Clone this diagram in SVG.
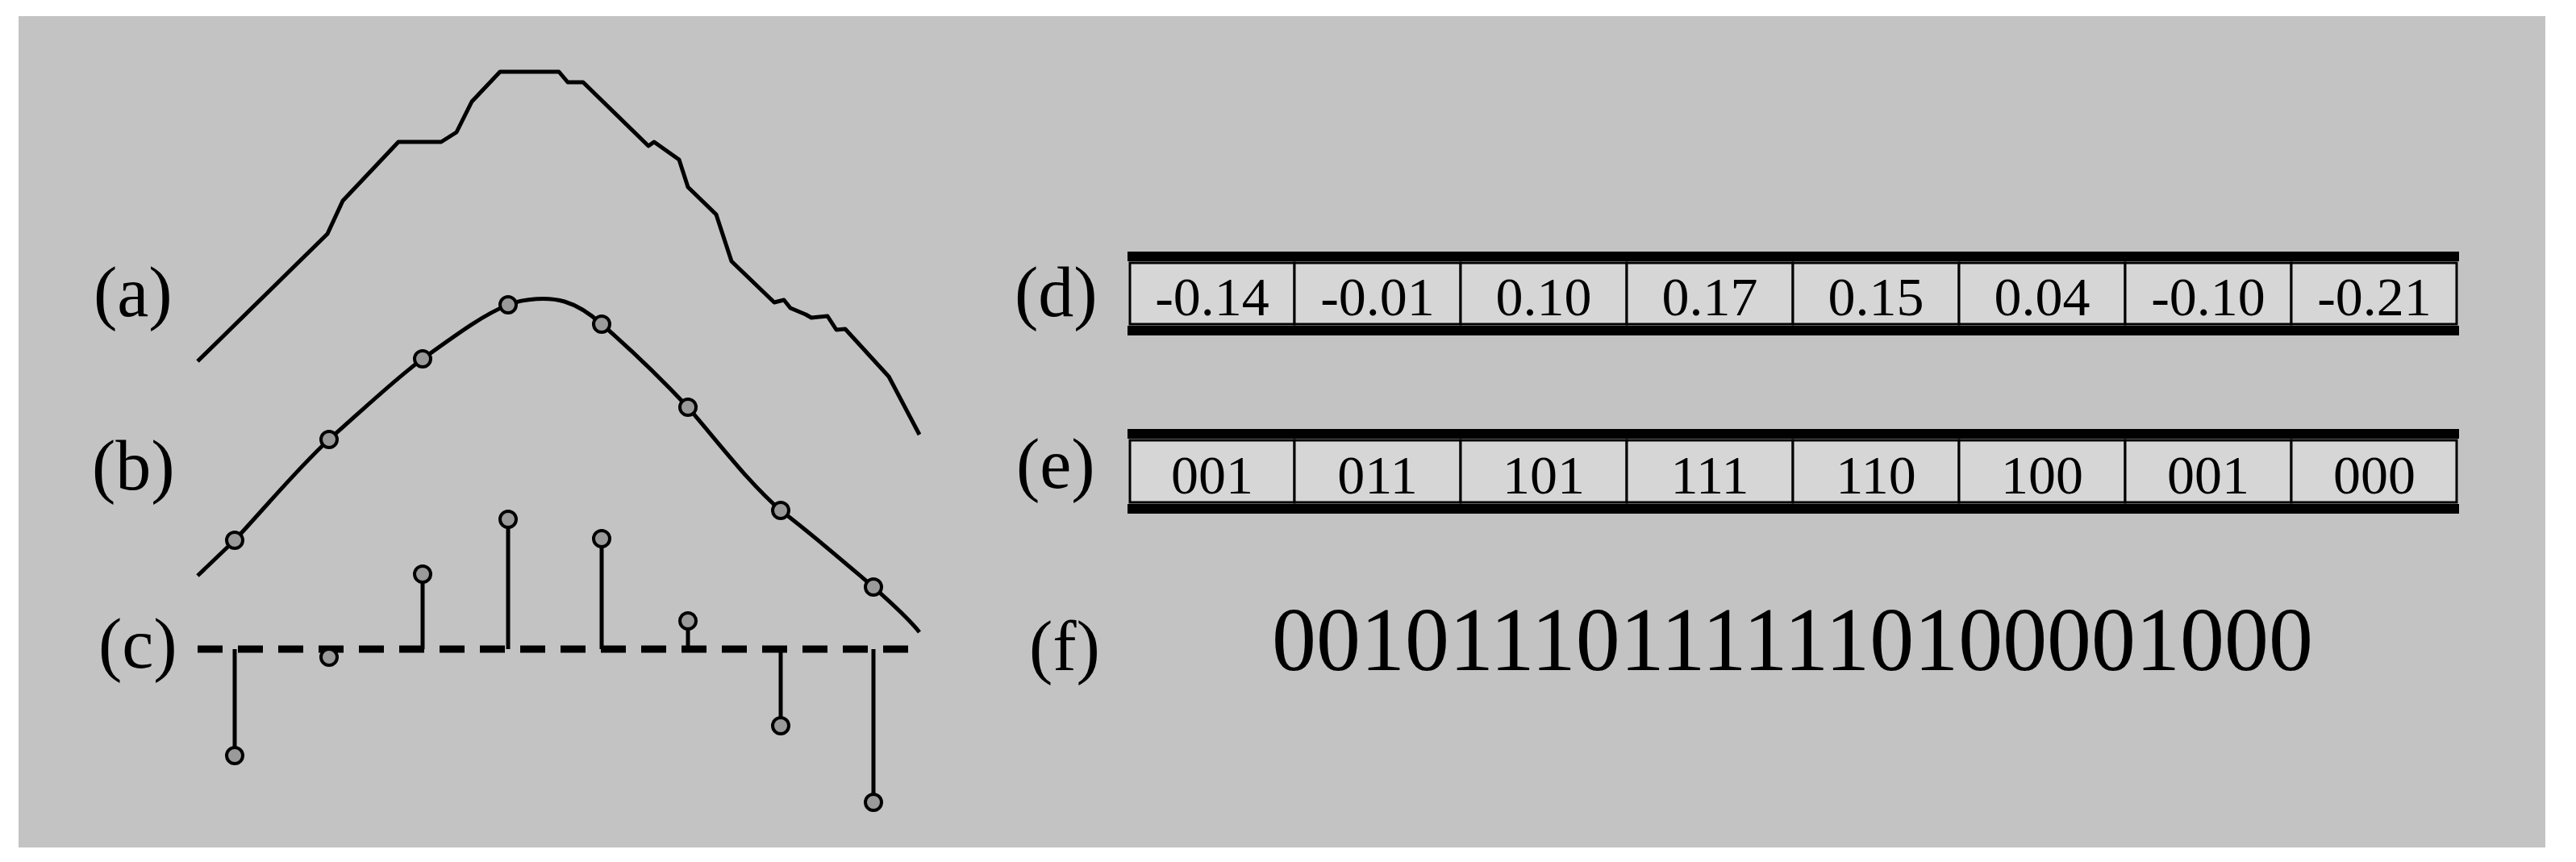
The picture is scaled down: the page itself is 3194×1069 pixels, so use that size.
<svg xmlns="http://www.w3.org/2000/svg" width="3194" height="1069" viewBox="0 0 3194 1069">
<style>
.t{font-family:"Liberation Serif",serif;fill:#000}
.lbl{font-size:88px}
.cell{font-size:68px;text-anchor:middle}
.curve{fill:none;stroke:#000;stroke-width:5;stroke-linejoin:round}
.dot{fill:#9a9a9a;stroke:#000;stroke-width:4}
.stem{stroke:#000;stroke-width:5}
.bar{fill:#000}
.box{fill:#d6d6d6;stroke:#000;stroke-width:3}
</style>
<rect width="3194" height="1069" fill="#fff"/>
<rect x="23" y="20" width="3133" height="1031" fill="#c3c3c3"/>
<g id="label-a"><text class="t lbl" x="116" y="392">(a)</text></g>
<g id="label-b"><text class="t lbl" x="114" y="607">(b)</text></g>
<g id="label-c"><text class="t lbl" x="122" y="828">(c)</text></g>
<g id="curve-a"><polyline class="curve" points="245,448 406,290 425,249 494,176 547,176 566,164 585,126 620,89 693,89 704,102 723,102 804,181 811,176 842,198 853,232 888,266 907,324 960,375 972,372 980,382 999,390 1006,394 1026,392 1037,409 1048,408 1102,467 1140,539"/></g>
<g id="curve-b">
<path class="curve" d="M245,714 L291,670 C330,628 370,580 408,545 C450,508 490,470 524,445 C570,412 600,390 630,378 C650,370 680,368 700,374 C720,380 735,392 746,402 C790,440 820,470 853,505 C900,560 930,600 968,633 C1010,665 1050,700 1083,728 C1105,748 1125,765 1140,784"/>
<g class="dot"><circle cx="291" cy="670" r="10"/><circle cx="408" cy="545" r="10"/><circle cx="524" cy="445" r="10"/><circle cx="630" cy="378" r="10"/><circle cx="746" cy="402" r="10"/><circle cx="853" cy="505" r="10"/><circle cx="968" cy="633" r="10"/><circle cx="1083" cy="728" r="10"/></g>
</g>
<g id="samples-c">
<line x1="245" y1="805" x2="1140" y2="805" stroke="#000" stroke-width="9" stroke-dasharray="31 19"/>
<g class="stem">
<line x1="291" y1="805" x2="291" y2="937"/><line x1="408" y1="805" x2="408" y2="815"/><line x1="524" y1="805" x2="524" y2="712"/><line x1="630" y1="805" x2="630" y2="644"/><line x1="746" y1="805" x2="746" y2="668"/><line x1="853" y1="805" x2="853" y2="770"/><line x1="968" y1="805" x2="968" y2="900"/><line x1="1083" y1="805" x2="1083" y2="995"/>
</g>
<g class="dot"><circle cx="291" cy="937" r="10"/><circle cx="408" cy="815" r="10"/><circle cx="524" cy="712" r="10"/><circle cx="630" cy="644" r="10"/><circle cx="746" cy="668" r="10"/><circle cx="853" cy="770" r="10"/><circle cx="968" cy="900" r="10"/><circle cx="1083" cy="995" r="10"/></g>
</g>
<g id="label-d"><text class="t lbl" x="1258" y="392">(d)</text></g>
<g id="table-d">
<rect class="bar" x="1398" y="312" width="1651" height="12"/>
<rect class="bar" x="1398" y="404" width="1651" height="12"/>
<g class="box"><rect x="1401" y="326" width="204" height="76"/><rect x="1605" y="326" width="206" height="76"/><rect x="1811" y="326" width="206" height="76"/><rect x="2017" y="326" width="206" height="76"/><rect x="2223" y="326" width="206" height="76"/><rect x="2429" y="326" width="206" height="76"/><rect x="2635" y="326" width="206" height="76"/><rect x="2841" y="326" width="205" height="76"/></g>
<g class="t cell"><text x="1503" y="391">-0.14</text><text x="1708" y="391">-0.01</text><text x="1914" y="391">0.10</text><text x="2120" y="391">0.17</text><text x="2326" y="391">0.15</text><text x="2532" y="391">0.04</text><text x="2738" y="391">-0.10</text><text x="2944" y="391">-0.21</text></g>
</g>
<g id="label-e"><text class="t lbl" x="1260" y="605">(e)</text></g>
<g id="table-e">
<rect class="bar" x="1398" y="532" width="1651" height="12"/>
<rect class="bar" x="1398" y="625" width="1651" height="12"/>
<g class="box"><rect x="1401" y="546" width="204" height="77"/><rect x="1605" y="546" width="206" height="77"/><rect x="1811" y="546" width="206" height="77"/><rect x="2017" y="546" width="206" height="77"/><rect x="2223" y="546" width="206" height="77"/><rect x="2429" y="546" width="206" height="77"/><rect x="2635" y="546" width="206" height="77"/><rect x="2841" y="546" width="205" height="77"/></g>
<g class="t cell"><text x="1503" y="612">001</text><text x="1708" y="612">011</text><text x="1914" y="612">101</text><text x="2120" y="612">111</text><text x="2326" y="612">110</text><text x="2532" y="612">100</text><text x="2738" y="612">001</text><text x="2944" y="612">000</text></g>
</g>
<g id="label-f"><text class="t lbl" x="1276" y="831">(f)</text></g>
<g id="bits-f"><text class="t" x="1577" y="831" font-size="112" textLength="1291" lengthAdjust="spacingAndGlyphs">001011101111110100001000</text></g>
</svg>
